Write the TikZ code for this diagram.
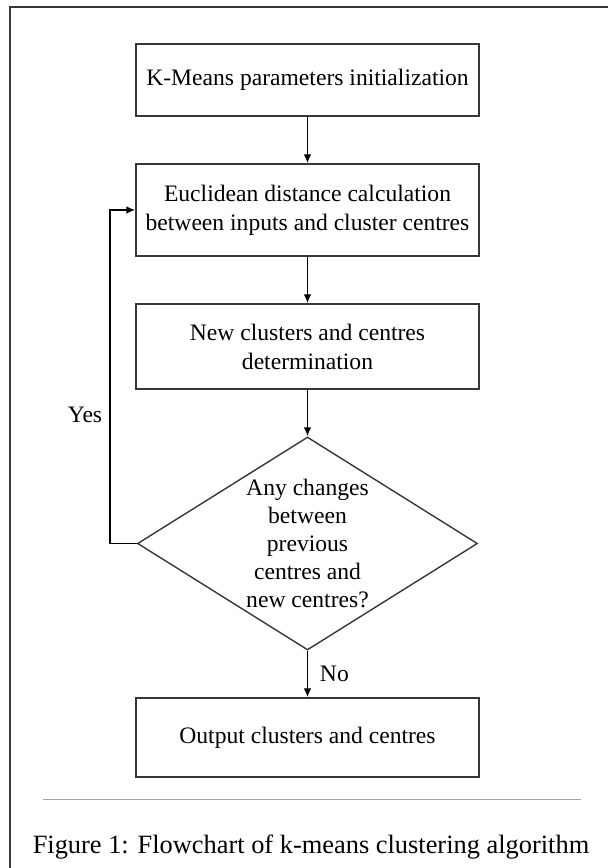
\documentclass[tikz,border=0pt]{standalone}
\usepackage{fontspec}
\setmainfont{Liberation Serif}
\usetikzlibrary{arrows.meta,shapes.geometric}
\definecolor{linegray}{RGB}{55,55,55}
\definecolor{rulegray}{RGB}{165,165,165}
\tikzset{
  chart/.style={x=0.5pt,y=-0.5pt,font=\fontsize{11.8}{14.5}\selectfont,>={Latex[length=4.5pt,width=3.8pt]}},
  block/.style={draw=linegray,line width=0.7pt,minimum width=171.5pt,align=center,inner sep=0pt},
  decision/.style={diamond,draw=linegray,line width=0.7pt,aspect=1.6,inner sep=0pt,
    minimum width=170pt,minimum height=106.5pt,align=center,font=\fontsize{11.8}{14}\selectfont},
  note/.style={font=\fontsize{11.8}{14.5}\selectfont},
  flow/.style={->,line width=0.8pt,draw=black},
}
\begin{document}
\begin{tikzpicture}[chart]
\useasboundingbox (0,0) rectangle (608,868);
\draw[linegray,line width=0.8pt] (10,880) -- (10,7) -- (620,7);
% process steps
\node[block,minimum height=36pt] (init) at (307.5,80) {K-Means parameters initialization};
\node[block,minimum height=46pt] (dist) at (307.5,210) {Euclidean distance calculation\\between inputs and cluster centres};
\node[block,minimum height=42.5pt] (upd) at (307.5,346.5) {New clusters and centres\\determination};
\node[decision] (check) at (307.5,543.5) {Any changes\\between\\previous\\centres and\\new centres?};
\node[block,minimum height=39.5pt] (out) at (307.5,737.5) {Output clusters and centres};
% arrows
\draw[flow] (init) -- (dist);
\draw[flow] (dist) -- (upd);
\draw[flow] (upd) -- (check);
\draw[flow] (check) -- node[note,right=2.5pt] {No} (out);
\draw[flow] (check.west) -- ++(-27,0) |- (dist.west);
\node[note] (yes) at (85,415) {Yes};
% caption
\draw[rulegray,line width=0.5pt] (43,799) -- (581,799);
\node[font=\fontsize{13.2}{15}\selectfont] (cap) at (311,847) {Figure 1: Flowchart of k-means clustering algorithm};
\end{tikzpicture}
\end{document}
